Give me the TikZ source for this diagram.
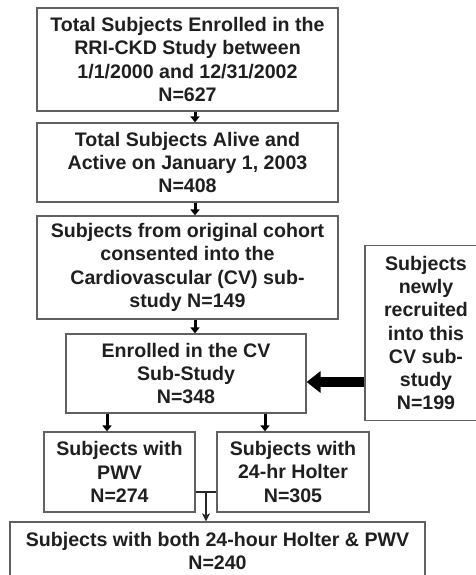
\documentclass[tikz,border=0pt]{standalone}
\usepackage{fontspec}
\setmainfont{Liberation Sans}
\usetikzlibrary{arrows.meta}
\tikzset{
  flowbox/.style={draw=black!62,line width=1.2pt,align=center,inner sep=0pt,
    text=black!88,font=\bfseries\fontsize{19.6}{23.3}\selectfont},
  flowstep/.style={-{Triangle[width=9pt,length=6pt]},line width=3pt,black},
  flowbig/.style={-{Triangle[width=21pt,length=14pt]},line width=10pt,black},
  flowjoin/.style={line width=1.3pt,black!85},
  flowtip/.style={-{Stealth[width=8pt,length=8pt,inset=2pt]},line width=1.3pt,black!85}
}
\begin{document}
\begin{tikzpicture}[x=1pt,y=-1pt]
  \useasboundingbox (0,0) rectangle (476,575);
  \node[flowbox,minimum width=301pt,minimum height=103pt] (total) at (187.5,59.5)
    {Total Subjects Enrolled in the\\RRI-CKD Study between\\1/1/2000 and 12/31/2002\\N=627};
  \node[flowbox,minimum width=301pt,minimum height=79pt] (alive) at (187.5,162.5)
    {Total Subjects Alive and\\Active on January 1, 2003\\N=408};
  \node[flowbox,minimum width=301pt,minimum height=103pt] (cohort) at (187.5,267.5)
    {Subjects from original cohort\\consented into the\\Cardiovascular (CV) sub-\\study N=149};
  \node[flowbox,minimum width=240pt,minimum height=79pt] (enrol) at (186,373.5)
    {Enrolled in the CV\\Sub-Study\\N=348};
  \node[flowbox,minimum width=122pt,minimum height=175pt] (recruit) at (426,333)
    {Subjects\\newly\\recruited\\into this\\CV sub-\\study\\N=199};
  \node[flowbox,minimum width=151pt,minimum height=80pt] (pwv) at (119.5,472)
    {Subjects with\\PWV\\N=274};
  \node[flowbox,minimum width=152pt,minimum height=80pt] (holter) at (293,472)
    {Subjects with\\24-hr Holter\\N=305};
  \node[flowbox,minimum width=415pt,minimum height=58pt] (both) at (217.5,551)
    {Subjects with both 24-hour Holter \& PWV\\N=240};

  % steps down the main column
  \draw[flowstep] ([xshift=7.5pt]total.south) -- ([xshift=7.5pt]alive.north);
  \draw[flowstep] ([xshift=7.5pt]alive.south) -- ([xshift=7.5pt]cohort.north);
  \draw[flowstep] ([xshift=7.5pt]cohort.south) -- ([xshift=7.5pt]cohort.south |- enrol.north);
  \draw[flowbig] ([yshift=-8.5pt]enrol.east -| recruit.west) -- ([yshift=-8.5pt]enrol.east);
  \draw[flowstep] ([xshift=-12.5pt]pwv.north |- enrol.south) -- ([xshift=-12.5pt]pwv.north);
  \draw[flowstep] ([xshift=-28pt]holter.north |- enrol.south) -- ([xshift=-28pt]holter.north);

  \draw[flowjoin] ([yshift=-20pt]pwv.east) -- ([yshift=-20pt]holter.west);
  \coordinate (split) at (206,492);
  \draw[flowtip] (split) -- (split |- both.north);
\end{tikzpicture}
\end{document}
